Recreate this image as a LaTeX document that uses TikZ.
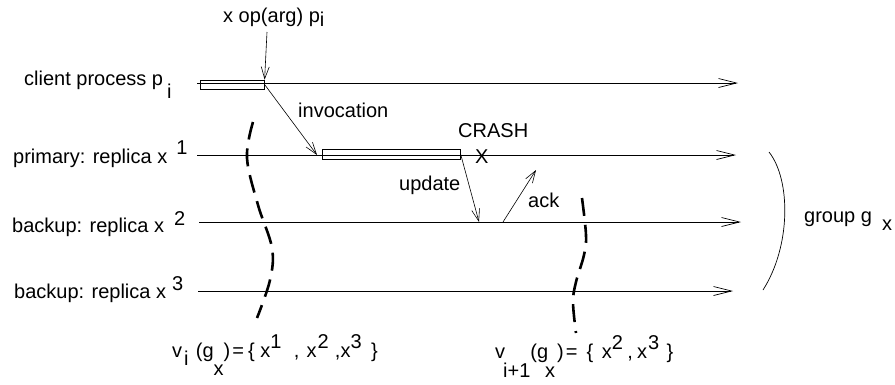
\documentclass[tikz,border=0pt]{standalone}
\usepackage{fontspec}
\setmainfont{Liberation Sans}
\usepackage{tikz}
\usetikzlibrary{arrows.meta}
\tikzset{
  lifeline/.style={draw=black, line width=0.7pt,
    -{Straight Barb[length=18pt,width=9pt]}},
  msgarrow/.style={draw=black, line width=0.6pt,
    -{Straight Barb[length=12pt,width=8pt]}},
  actbox/.style={rectangle, draw=black, line width=0.6pt,
    inner sep=0pt, anchor=west},
  lbl/.style={inner sep=0pt, font=\fontsize{20}{24}\selectfont,
    anchor=base west},
  cutline/.style={line width=2.6pt, dash pattern=on 18pt off 9pt},
  grpbrace/.style={line width=0.7pt},
}

\begin{document}
\begin{tikzpicture}[x=1pt, y=-1pt]
    \useasboundingbox (0,0) rectangle (895,384);
    % time lines
    \coordinate (cl0) at (197,83);  \coordinate (cl1) at (738,83);
    \coordinate (r10) at (197,155); \coordinate (r11) at (736,155);
    \coordinate (r20) at (199,222); \coordinate (r21) at (741,222);
    \coordinate (r30) at (198,291); \coordinate (r31) at (733,291);
    \draw[lifeline] (cl0) -- (cl1);
    \draw[lifeline] (r10) -- (r11);
    \draw[lifeline] (r20) -- (r21);
    \draw[lifeline] (r30) -- (r31);
    \node[actbox, minimum width=64pt, minimum height=9pt] (creq) at (200,84.5) {};
    \node[actbox, minimum width=138pt, minimum height=10pt] (pexec) at (322,154) {};

    % labels of the processes
    \node[lbl] (lclient) at (24,85) {client process p\hspace{4pt}\raisebox{-13pt}{i}};
    \node[lbl] (lprim) at (13,163) {primary: replica x\hspace{9pt}\raisebox{9pt}{1}};
    \node[lbl] (lback2) at (12,232) {backup: replica x\hspace{10pt}\raisebox{7pt}{2}};
    \node[lbl] (lback3) at (14,298) {backup: replica x\hspace{6pt}\raisebox{8pt}{3}};

    % messages
    \node[lbl] (op) at (223,22) {x op(arg) p\raisebox{-4pt}{i}};
    \coordinate (opfoot) at (267,32);
    \draw[msgarrow] (opfoot) -- (creq.north east);
    \coordinate (invtip) at (317,155);
    \draw[msgarrow] (creq.east) -- (invtip);
    \node[lbl] (linv) at (298,117) {invocation};
    \node[lbl] (crash) at (458,137) {CRASH};
    \node[lbl] (crashx) at (475,163) {X};
    \coordinate (updtip) at (479,222);
    \draw[msgarrow] (pexec.east) -- (updtip);
    \node[lbl] (lupd) at (399,190) {update};
    \coordinate (ackfoot) at (503,222);
    \coordinate (acktip) at (536,170);
    \draw[msgarrow] (ackfoot) -- (acktip);
    \node[lbl] (lack) at (528,207) {ack};

    % view changes
    \draw[cutline] plot[smooth, tension=0.6] coordinates
      {(253,122) (247,158) (258,205) (272,248) (270,280) (257,318)};
    \draw[cutline] plot[smooth, tension=0.6] coordinates
      {(582,198) (586,235) (584,255) (576,282) (573,302) (576,333)};
    \node[lbl] (viewi) at (172,357)
      {v\hspace{2pt}\raisebox{-8pt}{i}\hspace{7.3pt}(g\raisebox{-18pt}{x})\hspace{2pt}=\hspace{4pt}\{\hspace{5.6pt}x\raisebox{9pt}{1}\hspace{12.5pt},\hspace{7pt}x\hspace{1pt}\raisebox{9pt}{2}\hspace{6.3pt},x\raisebox{9pt}{3}\hspace{9.4pt}\}};
    \node[lbl] (viewj) at (495,358)
      {v\hspace{-2pt}\raisebox{-19pt}{i+1}(g\hspace{-3pt}\raisebox{-19pt}{x}\hspace{1.8pt})\hspace{2.3pt}=\hspace{9pt}\{\hspace{8.5pt}x\raisebox{9pt}{2}\hspace{4.5pt},\hspace{4pt}x\hspace{1pt}\raisebox{9pt}{3}\hspace{7.4pt}\}};

    % the group
    \draw[grpbrace] (769,152) .. controls (791,180) and (791,246) .. (763,290);
    \node[lbl] (lgroup) at (804,222) {group g\hspace{10pt}\raisebox{-8pt}{x}};
\end{tikzpicture}
\end{document}
